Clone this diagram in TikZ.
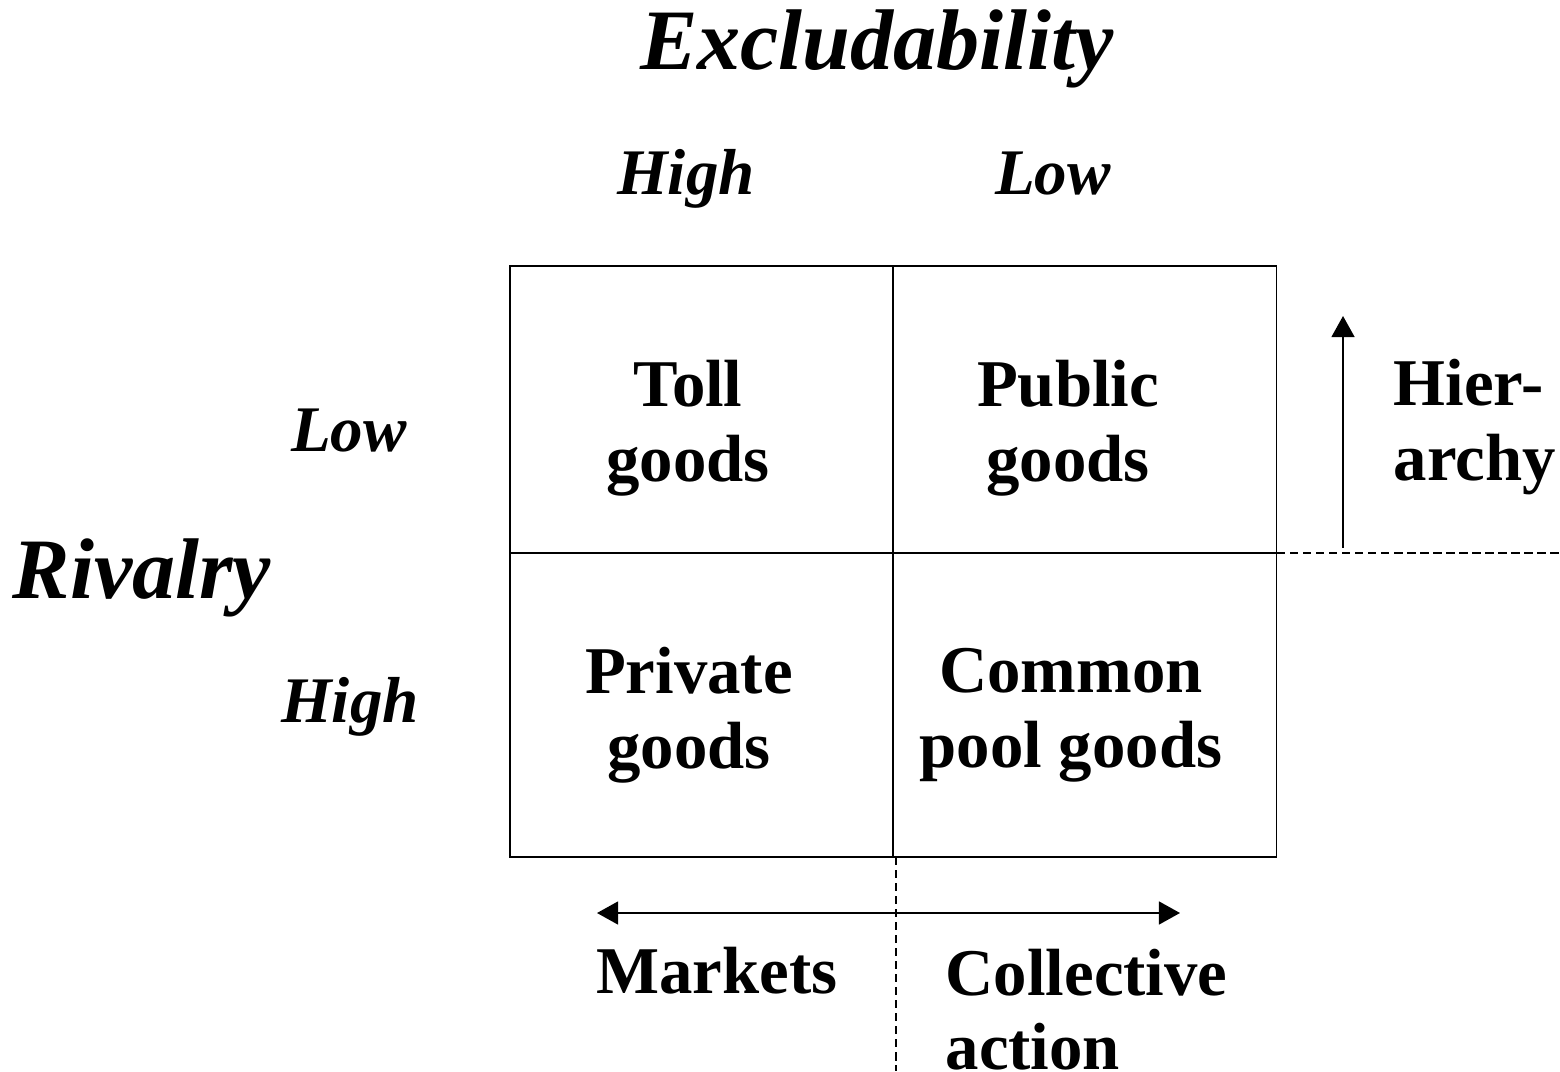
\documentclass[tikz,border=0pt]{standalone}
\usepackage{fontspec}
\setmainfont{Liberation Serif}
\usetikzlibrary{arrows.meta}

\tikzset{
	cell/.style={draw, line width=0.5pt, minimum width=3.83cm, inner sep=0pt, outer sep=0pt},
	goods/.style={font=\bfseries\fontsize{19}{21.3}\selectfont, align=center, inner sep=0pt},
	level/.style={font=\bfseries\itshape\fontsize{18.5}{21}\selectfont, anchor=base, inner sep=0pt},
	axis/.style={font=\bfseries\itshape\fontsize{24.5}{28}\selectfont, anchor=base, inner sep=0pt},
	guide/.style={line width=0.4pt, dash pattern=on 2.4pt off 1.3pt},
	push/.style={line width=0.6pt, -{Triangle[length=6pt,width=6.5pt]}}
}

\begin{document}
\begin{tikzpicture}
			\useasboundingbox (0,0) rectangle (15.6,10.71);

			% the four cells
			\node[cell, minimum height=2.87cm] (tl) at (7.015,6.615) {};
			\node[cell, minimum height=2.87cm] (tr) at (10.85,6.615) {};
			\node[cell, minimum height=3.04cm] (bl) at (7.015,3.66) {};
			\node[cell, minimum height=3.04cm] (br) at (10.85,3.66) {};

			\node[goods] (toll) at (6.88,6.43) {Toll\\goods};
			\node[goods] (public) at (10.68,6.43) {Public\\goods};
			\node[goods] (private) at (6.89,3.56) {Private\\goods};
			\node[goods] (common) at (10.71,3.56) {Common\\pool goods};

			% axis titles and levels
			\node[axis] (excl) at (8.77,10.01) {Excludability};
			\node[axis] (rival) at (1.42,4.73) {Rivalry};
			\node[level] (exhigh) at (6.86,8.76) {High};
			\node[level] (exlow) at (10.53,8.76) {Low};
			\node[level] (rvlow) at (3.49,6.19) {Low};
			\node[level] (rvhigh) at (3.50,3.49) {High};

			% modes of governance
			\node[goods, align=left, anchor=west] (hier) at (13.93,6.44) {Hier-\\archy};
			\node[goods, anchor=base] (markets) at (7.17,0.78) {Markets};
			\node[goods, align=left, anchor=north west] (collective) at (9.45,1.23) {Collective\\action};

			\coordinate (hierbot) at (13.43,5.23);
			\coordinate (hiertop) at (13.43,7.55);
			\coordinate (mktend) at (5.97,1.58);
			\coordinate (colend) at (11.80,1.58);
			\coordinate (vcut) at (8.96,2.14);
			\coordinate (vcutend) at (8.96,0);
			\coordinate (hcut) at (12.77,5.18);
			\coordinate (hcutend) at (15.6,5.18);

			\draw[guide] (vcut) -- (vcutend);
			\draw[guide] (hcut) -- (hcutend);
			\draw[push] (hierbot) -- (hiertop);
			\draw[push, {Triangle[length=6pt,width=6.5pt]}-{Triangle[length=6pt,width=6.5pt]}] (mktend) -- (colend);
		\end{tikzpicture}
\end{document}
